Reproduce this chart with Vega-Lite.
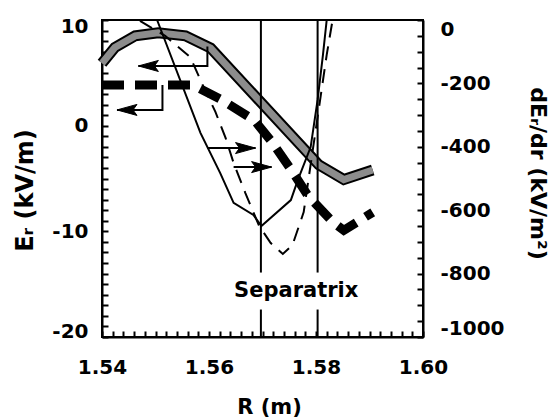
{
  "$schema": "https://vega.github.io/schema/vega-lite/v6.json",
  "width": 321,
  "height": 317,
  "autosize": {"type": "none"},
  "padding": {"left": 102, "top": 20, "right": 128, "bottom": 80},
  "background": "white",
  "config": {
    "font": "DejaVu Sans",
    "view": {"stroke": "black", "strokeWidth": 2},
    "axis": {
      "grid": false,
      "domainColor": "black",
      "domainWidth": 2,
      "tickColor": "black",
      "tickWidth": 2,
      "labelOverlap": false,
      "labelFont": "DejaVu Sans",
      "labelFontWeight": "bold",
      "labelFontSize": 20,
      "labelColor": "black",
      "titleFont": "DejaVu Sans",
      "titleFontWeight": "bold",
      "titleFontSize": 21,
      "titleColor": "black"
    }
  },
  "datasets": {
    "er1": [
      {"R": 1.5400, "Er": 5.9},
      {"R": 1.5424, "Er": 7.4},
      {"R": 1.5462, "Er": 8.5},
      {"R": 1.5505, "Er": 8.8},
      {"R": 1.5556, "Er": 8.5},
      {"R": 1.5603, "Er": 7.35},
      {"R": 1.5805, "Er": -3.7},
      {"R": 1.5852, "Er": -5.1},
      {"R": 1.5906, "Er": -4.2}
    ],
    "er2": [
      {"R": 1.5400, "Er": 3.85},
      {"R": 1.5570, "Er": 3.85},
      {"R": 1.5625, "Er": 2.4},
      {"R": 1.5685, "Er": 0.5},
      {"R": 1.5717, "Er": -1.5},
      {"R": 1.5754, "Er": -4.2},
      {"R": 1.5786, "Er": -6.7},
      {"R": 1.5831, "Er": -9.1},
      {"R": 1.5852, "Er": -9.9},
      {"R": 1.5906, "Er": -8.2}
    ],
    "d1": [
      {"R": 1.5503, "dE": 0},
      {"R": 1.5584, "dE": -356},
      {"R": 1.5621, "dE": -483},
      {"R": 1.5646, "dE": -577},
      {"R": 1.5683, "dE": -615},
      {"R": 1.5698, "dE": -650},
      {"R": 1.5753, "dE": -568},
      {"R": 1.5766, "dE": -505},
      {"R": 1.5790, "dE": -401},
      {"R": 1.5803, "dE": -252},
      {"R": 1.5813, "dE": -110},
      {"R": 1.5820, "dE": 0}
    ],
    "d2": [
      {"R": 1.5471, "dE": -3},
      {"R": 1.5518, "dE": -50},
      {"R": 1.5565, "dE": -117},
      {"R": 1.5589, "dE": -208},
      {"R": 1.5612, "dE": -290},
      {"R": 1.5631, "dE": -372},
      {"R": 1.5646, "dE": -451},
      {"R": 1.5668, "dE": -546},
      {"R": 1.5693, "dE": -647},
      {"R": 1.5715, "dE": -703},
      {"R": 1.5738, "dE": -738},
      {"R": 1.5756, "dE": -710},
      {"R": 1.5777, "dE": -606},
      {"R": 1.5794, "dE": -410},
      {"R": 1.5809, "dE": -237},
      {"R": 1.5820, "dE": -110},
      {"R": 1.5831, "dE": 0}
    ],
    "arrL": [
      {"id": "a1", "o": 1, "R": 1.5468, "Er": 5.65},
      {"id": "a1", "o": 2, "R": 1.5597, "Er": 5.65},
      {"id": "a1", "o": 3, "R": 1.5597, "Er": 7.5},
      {"id": "a2", "o": 1, "R": 1.5428, "Er": 1.49},
      {"id": "a2", "o": 2, "R": 1.5513, "Er": 1.49},
      {"id": "a2", "o": 3, "R": 1.5513, "Er": 3.85}
    ],
    "headL": [
      {"R": 1.5468, "Er": 5.65},
      {"R": 1.5428, "Er": 1.49}
    ],
    "arrR": [
      {"id": "a3", "R": 1.5597, "dE": -404},
      {"id": "a3", "R": 1.5687, "dE": -404},
      {"id": "a4", "R": 1.5646, "dE": -464},
      {"id": "a4", "R": 1.5717, "dE": -464}
    ],
    "headR": [
      {"R": 1.5687, "dE": -404},
      {"R": 1.5717, "dE": -464}
    ],
    "sep": [
      {"R": 1.5697, "Er": 10, "Er2": -13.9},
      {"R": 1.5697, "Er": -17.4, "Er2": -20},
      {"R": 1.5803, "Er": 10, "Er2": -13.9},
      {"R": 1.5803, "Er": -17.4, "Er2": -20}
    ],
    "lab": [
      {"R": 1.5763, "Er": -15.6, "label": "Separatrix"}
    ]
  },
  "layer": [
    {
      "data": {"name": "er1"},
      "mark": {"type": "line", "color": "black", "strokeWidth": 11},
      "encoding": {
        "x": {"field": "R", "type": "quantitative", "scale": {"domain": [1.54, 1.6], "nice": false, "zero": false},
          "axis": {"orient": "bottom",
            "values": [1.54, 1.542, 1.544, 1.546, 1.548, 1.55, 1.552, 1.554, 1.556, 1.558, 1.56, 1.562, 1.564, 1.566, 1.568, 1.57, 1.572, 1.574, 1.576, 1.578, 1.58, 1.582, 1.584, 1.586, 1.588, 1.59, 1.592, 1.594, 1.596, 1.598, 1.6],
            "labelExpr": "abs(datum.value * 50 - round(datum.value * 50)) < 0.001 ? format(datum.value, '.2f') : ''",
            "ticks": true, "tickSize": -6, "labelPadding": 26, "labelFlush": false,
            "title": "R (m)", "titleX": 167, "titleY": 76, "titleBaseline": "alphabetic"}},
        "y": {"field": "Er", "type": "quantitative", "scale": {"domain": [-20, 10], "nice": false, "zero": false},
          "axis": {"orient": "left",
            "values": [-20, -19, -18, -17, -16, -15, -14, -13, -12, -11, -10, -9, -8, -7, -6, -5, -4, -3, -2, -1, 0, 1, 2, 3, 4, 5, 6, 7, 8, 9, 10],
            "labelExpr": "datum.value % 10 == 0 ? toString(datum.value) : ''",
            "ticks": true, "tickSize": -6, "labelPadding": 20, "labelFlush": true, "labelFlushOffset": 4,
            "title": "Eᵣ (kV/m)", "titleFontSize": 24, "titleX": -70, "titleY": 170, "titleBaseline": "alphabetic", "titleAngle": -90}}
      }
    },
    {
      "data": {"name": "er1"},
      "mark": {"type": "line", "color": "#8c8c8c", "strokeWidth": 7},
      "encoding": {
        "x": {"field": "R", "type": "quantitative", "scale": {"domain": [1.54, 1.6], "nice": false, "zero": false}, "axis": null},
        "y": {"field": "Er", "type": "quantitative", "scale": {"domain": [-20, 10], "nice": false, "zero": false}, "axis": null}
      }
    },
    {
      "data": {"name": "er2"},
      "mark": {"type": "line", "color": "black", "strokeWidth": 9, "strokeDash": [22, 11]},
      "encoding": {
        "x": {"field": "R", "type": "quantitative", "scale": {"domain": [1.54, 1.6], "nice": false, "zero": false}, "axis": null},
        "y": {"field": "Er", "type": "quantitative", "scale": {"domain": [-20, 10], "nice": false, "zero": false}, "axis": null}
      }
    },
    {
      "data": {"name": "arrL"},
      "mark": {"type": "line", "color": "black", "strokeWidth": 2},
      "encoding": {
        "x": {"field": "R", "type": "quantitative", "scale": {"domain": [1.54, 1.6], "nice": false, "zero": false}, "axis": null},
        "y": {"field": "Er", "type": "quantitative", "scale": {"domain": [-20, 10], "nice": false, "zero": false}, "axis": null},
        "detail": {"field": "id"},
        "order": {"field": "o", "type": "quantitative"}
      }
    },
    {
      "data": {"name": "headL"},
      "mark": {"type": "point", "shape": "M 0 0 L 2 -0.55 L 1.6 0 L 2 0.55 Z", "filled": true, "size": 400, "fill": "black", "stroke": "black", "strokeWidth": 1, "opacity": 1},
      "encoding": {
        "x": {"field": "R", "type": "quantitative", "scale": {"domain": [1.54, 1.6], "nice": false, "zero": false}, "axis": null},
        "y": {"field": "Er", "type": "quantitative", "scale": {"domain": [-20, 10], "nice": false, "zero": false}, "axis": null}
      }
    },
    {
      "data": {"name": "sep"},
      "mark": {"type": "rule", "color": "black", "strokeWidth": 2},
      "encoding": {
        "x": {"field": "R", "type": "quantitative", "scale": {"domain": [1.54, 1.6], "nice": false, "zero": false}, "axis": null},
        "y": {"field": "Er", "type": "quantitative", "scale": {"domain": [-20, 10], "nice": false, "zero": false}, "axis": null},
        "y2": {"field": "Er2"}
      }
    },
    {
      "data": {"name": "lab"},
      "mark": {"type": "text", "font": "DejaVu Sans", "fontWeight": "bold", "fontSize": 21, "color": "black", "align": "center", "baseline": "middle"},
      "encoding": {
        "x": {"field": "R", "type": "quantitative", "scale": {"domain": [1.54, 1.6], "nice": false, "zero": false}, "axis": null},
        "y": {"field": "Er", "type": "quantitative", "scale": {"domain": [-20, 10], "nice": false, "zero": false}, "axis": null},
        "text": {"field": "label"}
      }
    },
    {
      "data": {"name": "d1"},
      "mark": {"type": "line", "color": "black", "strokeWidth": 2},
      "encoding": {
        "x": {"field": "R", "type": "quantitative", "scale": {"domain": [1.54, 1.6], "nice": false, "zero": false}, "axis": null},
        "y": {"field": "dE", "type": "quantitative", "scale": {"domain": [-1000, 0], "nice": false, "zero": false},
          "axis": {"orient": "right",
            "values": [-1000, -950, -900, -850, -800, -750, -700, -650, -600, -550, -500, -450, -400, -350, -300, -250, -200, -150, -100, -50, 0],
            "labelExpr": "datum.value % 200 == 0 ? toString(datum.value) : ''",
            "ticks": true, "tickSize": -6, "labelPadding": 23, "labelFlush": true, "labelFlushOffset": 1,
            "title": "dEᵣ/dr (kV/m²)", "titleFontSize": 22, "titleX": 107, "titleY": 153, "titleBaseline": "alphabetic", "titleAngle": 90}}
      }
    },
    {
      "data": {"name": "d2"},
      "mark": {"type": "line", "color": "black", "strokeWidth": 2, "strokeDash": [14, 9]},
      "encoding": {
        "x": {"field": "R", "type": "quantitative", "scale": {"domain": [1.54, 1.6], "nice": false, "zero": false}, "axis": null},
        "y": {"field": "dE", "type": "quantitative", "scale": {"domain": [-1000, 0], "nice": false, "zero": false}, "axis": null}
      }
    },
    {
      "data": {"name": "arrR"},
      "mark": {"type": "line", "color": "black", "strokeWidth": 2},
      "encoding": {
        "x": {"field": "R", "type": "quantitative", "scale": {"domain": [1.54, 1.6], "nice": false, "zero": false}, "axis": null},
        "y": {"field": "dE", "type": "quantitative", "scale": {"domain": [-1000, 0], "nice": false, "zero": false}, "axis": null},
        "detail": {"field": "id"}
      }
    },
    {
      "data": {"name": "headR"},
      "mark": {"type": "point", "shape": "M 0 0 L -2 -0.55 L -1.6 0 L -2 0.55 Z", "filled": true, "size": 400, "fill": "black", "stroke": "black", "strokeWidth": 1, "opacity": 1},
      "encoding": {
        "x": {"field": "R", "type": "quantitative", "scale": {"domain": [1.54, 1.6], "nice": false, "zero": false}, "axis": null},
        "y": {"field": "dE", "type": "quantitative", "scale": {"domain": [-1000, 0], "nice": false, "zero": false}, "axis": null}
      }
    }
  ],
  "resolve": {"scale": {"y": "independent"}, "axis": {"x": "independent", "y": "independent"}}
}
